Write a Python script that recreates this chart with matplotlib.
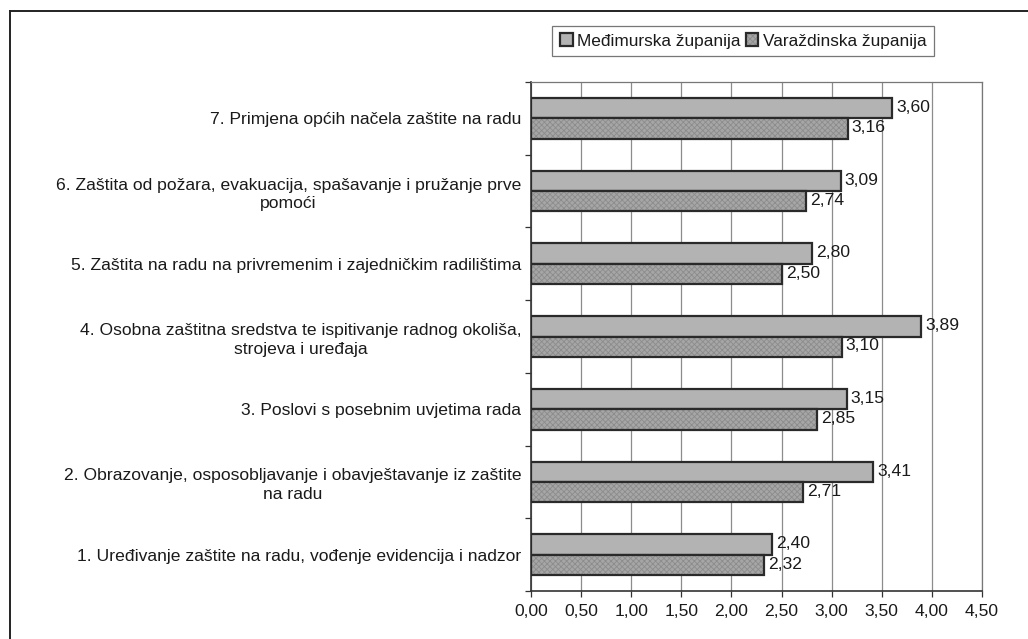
import matplotlib
matplotlib.use("Agg")
import matplotlib.pyplot as plt
import numpy as np
from matplotlib.lines import Line2D
from matplotlib.ticker import FixedLocator

plt.rcParams['font.family'] = ['Liberation Sans', 'DejaVu Sans']
plt.rcParams['hatch.linewidth'] = 0.6

categories = [
    "1. Uređivanje zaštite na radu, vođenje evidencija i nadzor",
    "2. Obrazovanje, osposobljavanje i obavještavanje iz zaštite\nna radu",
    "3. Poslovi s posebnim uvjetima rada",
    "4. Osobna zaštitna sredstva te ispitivanje radnog okoliša,\nstrojeva i uređaja",
    "5. Zaštita na radu na privremenim i zajedničkim radilištima",
    "6. Zaštita od požara, evakuacija, spašavanje i pružanje prve\npomoći",
    "7. Primjena općih načela zaštite na radu",
]
medimurska = [2.40, 3.41, 3.15, 3.89, 2.80, 3.09, 3.60]
varazdinska = [2.32, 2.71, 2.85, 3.10, 2.50, 2.74, 3.16]
series_names = ["Međimurska županija", "Varaždinska županija"]
xticks = [0.0, 0.5, 1.0, 1.5, 2.0, 2.5, 3.0, 3.5, 4.0, 4.5]

W, H = 1028, 639
fig = plt.figure(figsize=(W / 100, H / 100), dpi=100)
fig.patch.set_facecolor('white')
ax = fig.add_axes([531 / W, 1 - 591 / H, (982 - 531) / W, (591 - 82) / H])

y = np.arange(len(categories))
bh = 0.28
fs = 12.6

b1 = ax.barh(y + bh / 2, medimurska, height=bh, color='#b3b3b3',
             edgecolor='#2a2a2a', linewidth=1.6, zorder=3)
b2 = ax.barh(y - bh / 2, varazdinska, height=bh, color='#a6a6a6',
             edgecolor='#2a2a2a', linewidth=1.6, hatch='xxxxxx', zorder=3)
for b in b2:
    b._hatch_color = matplotlib.colors.to_rgba('#8c8c8c')

for bars, vals in ((b1, medimurska), (b2, varazdinska)):
    for bar, v in zip(bars, vals):
        ax.annotate(f"{v:.2f}".replace('.', ','),
                    (v, bar.get_y() + bar.get_height() / 2),
                    xytext=(3, 0.5), textcoords='offset points',
                    ha='left', va='center', fontsize=fs, color='#1a1a1a')

ax.set_xlim(0, 4.5)
ax.set_ylim(-0.5, len(categories) - 0.5)
ax.set_xticks(xticks)
ax.set_xticklabels([f"{t:.2f}".replace('.', ',') for t in xticks], fontsize=fs, color='#1a1a1a')
ax.tick_params(axis='x', length=4, width=0.9, color='#333333', pad=5)
ax.set_yticks(y)
ax.set_yticklabels(categories, fontsize=fs, color='#1a1a1a', ha='right',
                   multialignment='center', linespacing=1.3)
ax.tick_params(axis='y', which='major', length=0, pad=7)
ax.yaxis.set_minor_locator(FixedLocator(np.arange(-0.5, len(categories), 1.0)))
ax.tick_params(axis='y', which='minor', length=4, width=0.9, color='#333333')

ax.grid(axis='x', color='#8c8c8c', linewidth=0.9, zorder=0)
ax.set_axisbelow(True)
for s in ('top', 'right'):
    ax.spines[s].set_color('#777777')
    ax.spines[s].set_linewidth(0.9)
ax.spines['left'].set_color('#333333')
ax.spines['left'].set_linewidth(1.2)
ax.spines['bottom'].set_color('#333333')
ax.spines['bottom'].set_linewidth(1.2)

leg = fig.legend([b1, b2], series_names, loc='center', ncol=2,
                 bbox_to_anchor=(743 / W, 1 - 41 / H), fontsize=12.4,
                 frameon=True, fancybox=False, edgecolor='#555555',
                 handlelength=0.75, handleheight=0.75, handletextpad=0.25,
                 columnspacing=0.3, borderpad=0.45, labelcolor='#1a1a1a')
leg.get_frame().set_linewidth(0.9)

# outer chart border
fig.add_artist(Line2D([10 / W, 10 / W], [0, 1 - 11 / H], transform=fig.transFigure,
                      color='#222222', linewidth=1.4))
fig.add_artist(Line2D([10 / W, 1], [1 - 11 / H, 1 - 11 / H], transform=fig.transFigure,
                      color='#222222', linewidth=1.4))

fig.savefig('out.png', dpi=100, facecolor='white')
